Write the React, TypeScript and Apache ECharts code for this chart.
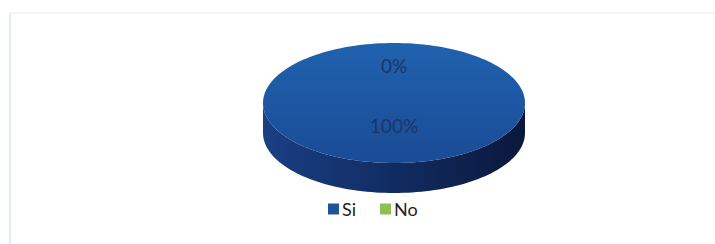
import React, { useEffect, useRef } from "react";
import * as echarts from "echarts";

const categories = ["Si", "No"];
const values = [100, 0];
const legendColors = ["#1f53a0", "#8dbf55"];

const CX = 394;
const CY = 103;
const RX = 131;
const RY = 60;
const DEPTH = 30;

function ellPt(t: number, dy = 0): number[] {
  return [CX + RX * Math.cos(t), CY + RY * Math.sin(t) + dy];
}

function arcPts(s: number, e: number, dy = 0): number[][] {
  const n = Math.max(2, Math.ceil(((e - s) / (Math.PI * 2)) * 180));
  const pts: number[][] = [];
  for (let k = 0; k <= n; k++) pts.push(ellPt(s + ((e - s) * k) / n, dy));
  return pts;
}

export default function App() {
  const ref = useRef<HTMLDivElement>(null);
  useEffect(() => {
    if (!ref.current) return;
    const chart = echarts.init(ref.current, null, { renderer: "svg" });
    const total = values.reduce((a, b) => a + b, 0);

    const makeRender = (i: number) => (params: any, api: any) => {
      const before = values.slice(0, i).reduce((a, b) => a + b, 0);
      const v = api.value(0);
      const start = -Math.PI / 2 + (before / total) * Math.PI * 2;
      const end = start + (v / total) * Math.PI * 2;
      const children: any[] = [];
      if (v > 0) {
        for (let k = -1; k <= 1; k++) {
          const s = Math.max(start, 2 * Math.PI * k);
          const e = Math.min(end, 2 * Math.PI * k + Math.PI);
          if (e > s) {
            const top = arcPts(s, e, 0);
            const bot = arcPts(s, e, DEPTH).reverse();
            children.push({
              type: "polygon",
              z2: 0,
              shape: { points: top.concat(bot) },
              style: {
                fill: {
                  type: "linear",
                  x: 0, y: 0, x2: 1, y2: 0,
                  colorStops: [
                    { offset: 0, color: "#1a3f84" },
                    { offset: 0.5, color: "#112c62" },
                    { offset: 1, color: "#0a183b" },
                  ],
                },
                stroke: null,
              },
            });
          }
        }
        const full = end - start >= Math.PI * 2 - 1e-6;
        const facePts = full ? arcPts(start, end) : [[CX, CY]].concat(arcPts(start, end));
        children.push({
          type: "polygon",
          z2: 10,
          shape: { points: facePts },
          style: {
            fill: {
              type: "linear",
              x: 0, y: 0, x2: 0, y2: 1,
              colorStops: [
                { offset: 0, color: "#2062ae" },
                { offset: 1, color: "#1a4b96" },
              ],
            },
            stroke: null,
          },
        });
      }
      const mid = (start + end) / 2;
      const f = v > 0 ? 0.38 : 0.63;
      const lx = CX + f * RX * Math.cos(mid);
      const ly = CY + f * RY * Math.sin(mid);
      children.push({
        type: "text",
        z2: 20,
        style: {
          text: Math.round((v / total) * 100) + "%",
          x: lx,
          y: ly,
          align: "center",
          verticalAlign: "middle",
          textAlign: "center",
          textVerticalAlign: "middle",
          fill: "#1c3567",
          fontSize: 19,
          fontFamily: "Lato, sans-serif",
        },
      });
      return { type: "group", children };
    };

    chart.setOption({
      animation: false,
      backgroundColor: "#ffffff",
      legend: {
        data: categories,
        icon: "rect",
        itemWidth: 11,
        itemHeight: 11,
        itemGap: 24,
        left: 328,
        top: 200,
        padding: 0,
        selectedMode: false,
        textStyle: { fontSize: 18, fontFamily: "Lato, sans-serif", color: "#222222", padding: [0, 0, 0, -2] },
      },
      graphic: [
        { type: "line", shape: { x1: 10, y1: 13, x2: 715, y2: 13 }, style: { stroke: "#e8e8e8", lineWidth: 1 } },
        { type: "line", shape: { x1: 10, y1: 13, x2: 10, y2: 244 }, style: { stroke: "#d3ecec", lineWidth: 1.5 } },
      ],
      series: categories.map((name, i) => ({
        type: "custom",
        name,
        coordinateSystem: "none",
        itemStyle: { color: legendColors[i] },
        data: [[values[i]]],
        renderItem: makeRender(i),
      })),
    });
    return () => chart.dispose();
  }, []);
  return (
    <div
      ref={ref}
      style={{ position: "fixed", left: 0, top: 0, width: 715, height: 244 }}
    />
  );
}
